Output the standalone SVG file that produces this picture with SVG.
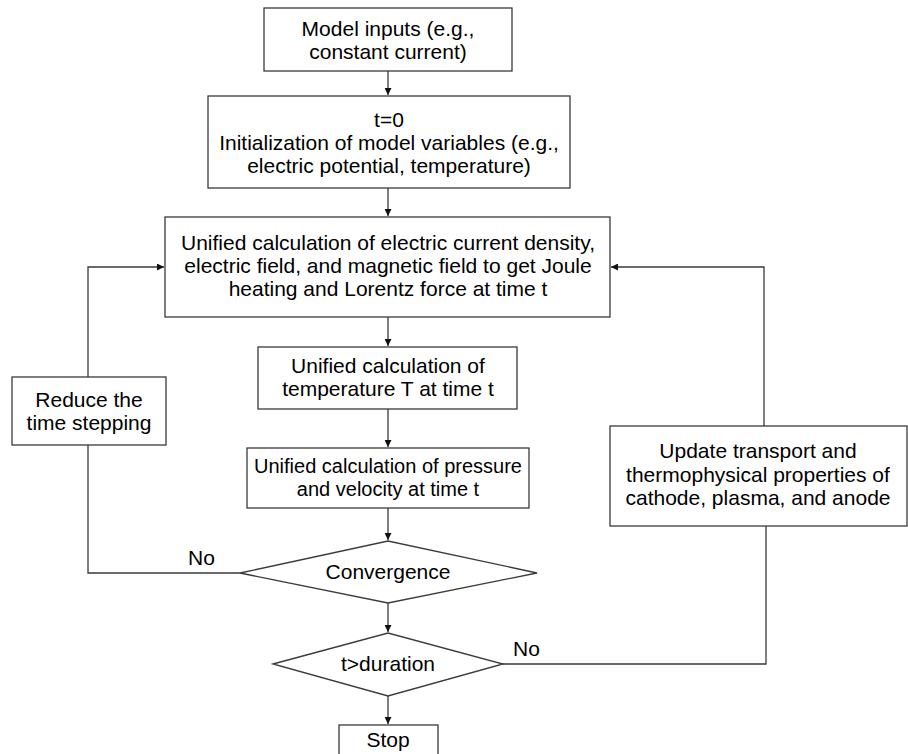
<svg xmlns="http://www.w3.org/2000/svg" width="908" height="754" viewBox="0 0 908 754">
<style>
.b{fill:#fff;stroke:#3a3a3a;stroke-width:1.3}
.t{font-family:"Liberation Sans",Arial,sans-serif;font-size:21px;fill:#000;text-anchor:middle}
.s{font-size:20px}
.l{font-family:"Liberation Sans",Arial,sans-serif;font-size:21px;fill:#000}
.c{fill:none;stroke:#3a3a3a;stroke-width:1.3}
</style>
<defs>
<marker id="ah" viewBox="0 0 10 10" refX="10" refY="5" markerWidth="7" markerHeight="7" markerUnits="userSpaceOnUse" orient="auto">
<path d="M0,0 L10,5 L0,10 z" fill="#111"/>
</marker>
</defs>
<rect width="908" height="754" fill="#fff"/>
<g id="connectors">
<path class="c" d="M388,71 V95" marker-end="url(#ah)"/>
<path class="c" d="M388,188 V216" marker-end="url(#ah)"/>
<path class="c" d="M388,317 V346" marker-end="url(#ah)"/>
<path class="c" d="M388,409 V447" marker-end="url(#ah)"/>
<path class="c" d="M388,508 V540" marker-end="url(#ah)"/>
<path class="c" d="M388,603 V632" marker-end="url(#ah)"/>
<path class="c" d="M388,696 V724" marker-end="url(#ah)"/>
<path class="c" d="M240,573 H88 V445"/>
<path class="c" d="M88,377 V267 H164" marker-end="url(#ah)"/>
<path class="c" d="M503,664 H766 V526"/>
<path class="c" d="M764,426 V267 H611" marker-end="url(#ah)"/>
<text class="l" x="188" y="565">No</text>
<text class="l" x="513" y="656">No</text>
</g>
<g id="n1"><rect class="b" x="264" y="8" width="248" height="63"/>
<text class="t" x="388" y="36">Model inputs (e.g.,</text><text class="t" x="388" y="59">constant current)</text></g>
<g id="n2"><rect class="b" x="208" y="96" width="362" height="92"/>
<text class="t" x="389" y="127">t=0</text><text class="t" x="389" y="150">Initialization of model variables (e.g.,</text><text class="t" x="389" y="173">electric potential, temperature)</text></g>
<g id="n3"><rect class="b" x="165" y="217" width="445" height="100"/>
<text class="t" x="388" y="250">Unified calculation of electric current density,</text><text class="t" x="388" y="273">electric field, and magnetic field to get Joule</text><text class="t" x="388" y="296">heating and Lorentz force at time t</text></g>
<g id="n4"><rect class="b" x="258" y="347" width="259" height="62"/>
<text class="t" x="388" y="373">Unified calculation of</text><text class="t" x="388" y="396">temperature T at time t</text></g>
<g id="n5"><rect class="b" x="247" y="448" width="282" height="60"/>
<text class="t s" x="388" y="473">Unified calculation of pressure</text><text class="t s" x="388" y="496">and velocity at time t</text></g>
<g id="n6"><polygon class="b" points="240,573 388,541 537,573 388,603"/>
<text class="t" x="388" y="579">Convergence</text></g>
<g id="n7"><polygon class="b" points="273,664 388,633 503,664 388,696"/>
<text class="t" x="388" y="671">t&gt;duration</text></g>
<g id="n8"><rect class="b" x="339" y="725" width="99" height="40"/>
<text class="t" x="388" y="747">Stop</text></g>
<g id="n9"><rect class="b" x="12" y="377" width="154" height="68"/>
<text class="t" x="89" y="407">Reduce the</text><text class="t" x="89" y="430">time stepping</text></g>
<g id="n10"><rect class="b" x="610" y="426" width="297" height="100"/>
<text class="t" x="758" y="458">Update transport and</text><text class="t" x="758" y="482">thermophysical properties of</text><text class="t" x="758" y="505">cathode, plasma, and anode</text></g>
</svg>
